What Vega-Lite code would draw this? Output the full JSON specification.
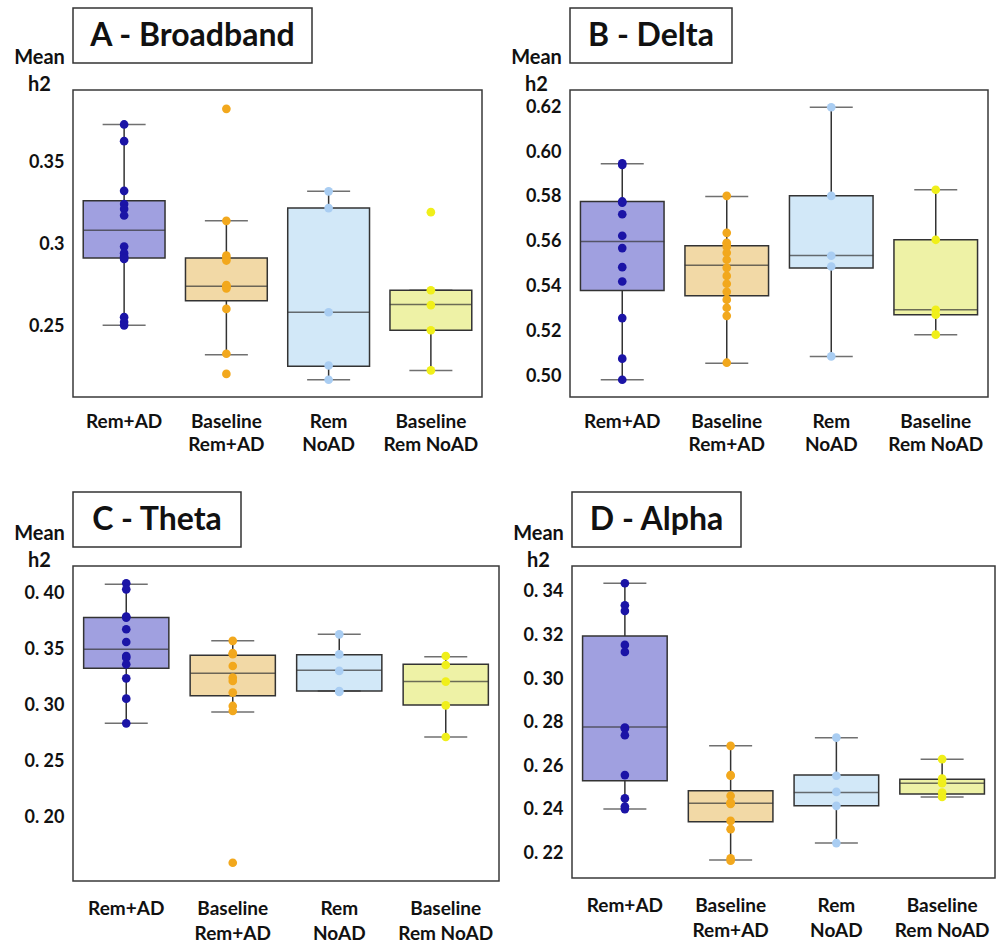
{
"$schema": "https://vega.github.io/schema/vega-lite/v6.json",
"padding": {"left": 12, "top": 7, "right": 0, "bottom": 0},
"background": "white",
"datasets": {
"box": [
{"panel":"A","group":"Rem+AD","lower":0.251,"q1":0.292,"median":0.309,"q3":0.327,"upper":0.3735},
{"panel":"A","group":"Baseline|Rem+AD","lower":0.233,"q1":0.266,"median":0.2749,"q3":0.292,"upper":0.3147},
{"panel":"A","group":"Rem|NoAD","lower":0.2178,"q1":0.226,"median":0.259,"q3":0.3225,"upper":0.3327},
{"panel":"A","group":"Baseline|Rem NoAD","lower":0.2235,"q1":0.248,"median":0.2637,"q3":0.2724,"upper":0.2724},
{"panel":"B","group":"Rem+AD","lower":0.4985,"q1":0.5383,"median":0.5601,"q3":0.578,"upper":0.5948},
{"panel":"B","group":"Baseline|Rem+AD","lower":0.5059,"q1":0.5359,"median":0.5495,"q3":0.5582,"upper":0.5802},
{"panel":"B","group":"Rem|NoAD","lower":0.5089,"q1":0.5483,"median":0.5539,"q3":0.5805,"upper":0.62},
{"panel":"B","group":"Baseline|Rem NoAD","lower":0.5186,"q1":0.5275,"median":0.5297,"q3":0.5609,"upper":0.5832},
{"panel":"C","group":"Rem+AD","lower":0.284,"q1":0.3331,"median":0.35,"q3":0.3782,"upper":0.4079},
{"panel":"C","group":"Baseline|Rem+AD","lower":0.294,"q1":0.3085,"median":0.3286,"q3":0.3446,"upper":0.3575},
{"panel":"C","group":"Rem|NoAD","lower":0.3128,"q1":0.3128,"median":0.3313,"q3":0.3452,"upper":0.3633},
{"panel":"C","group":"Baseline|Rem NoAD","lower":0.2718,"q1":0.3004,"median":0.3212,"q3":0.3366,"upper":0.3434},
{"panel":"D","group":"Rem+AD","lower":0.2404,"q1":0.2534,"median":0.2781,"q3":0.3198,"upper":0.344},
{"panel":"D","group":"Baseline|Rem+AD","lower":0.217,"q1":0.2346,"median":0.2431,"q3":0.2488,"upper":0.2694},
{"panel":"D","group":"Rem|NoAD","lower":0.2248,"q1":0.2419,"median":0.248,"q3":0.256,"upper":0.2731},
{"panel":"D","group":"Baseline|Rem NoAD","lower":0.246,"q1":0.2473,"median":0.2523,"q3":0.2541,"upper":0.2633}
],
"pts": [
{"panel":"A","group":"Rem+AD","value":0.3735},{"panel":"A","group":"Rem+AD","value":0.3633},{"panel":"A","group":"Rem+AD","value":0.333},{"panel":"A","group":"Rem+AD","value":0.325},{"panel":"A","group":"Rem+AD","value":0.322},{"panel":"A","group":"Rem+AD","value":0.318},{"panel":"A","group":"Rem+AD","value":0.299},{"panel":"A","group":"Rem+AD","value":0.295},{"panel":"A","group":"Rem+AD","value":0.293},{"panel":"A","group":"Rem+AD","value":0.292},{"panel":"A","group":"Rem+AD","value":0.2915},{"panel":"A","group":"Rem+AD","value":0.256},{"panel":"A","group":"Rem+AD","value":0.253},{"panel":"A","group":"Rem+AD","value":0.251},
{"panel":"A","group":"Baseline|Rem+AD","value":0.383},{"panel":"A","group":"Baseline|Rem+AD","value":0.3147},{"panel":"A","group":"Baseline|Rem+AD","value":0.2935},{"panel":"A","group":"Baseline|Rem+AD","value":0.292},{"panel":"A","group":"Baseline|Rem+AD","value":0.2905},{"panel":"A","group":"Baseline|Rem+AD","value":0.2755},{"panel":"A","group":"Baseline|Rem+AD","value":0.275},{"panel":"A","group":"Baseline|Rem+AD","value":0.2745},{"panel":"A","group":"Baseline|Rem+AD","value":0.2735},{"panel":"A","group":"Baseline|Rem+AD","value":0.261},{"panel":"A","group":"Baseline|Rem+AD","value":0.2337},{"panel":"A","group":"Baseline|Rem+AD","value":0.2214},
{"panel":"A","group":"Rem|NoAD","value":0.3327},{"panel":"A","group":"Rem|NoAD","value":0.3225},{"panel":"A","group":"Rem|NoAD","value":0.259},{"panel":"A","group":"Rem|NoAD","value":0.2265},{"panel":"A","group":"Rem|NoAD","value":0.2178},
{"panel":"A","group":"Baseline|Rem NoAD","value":0.32},{"panel":"A","group":"Baseline|Rem NoAD","value":0.2724},{"panel":"A","group":"Baseline|Rem NoAD","value":0.2633},{"panel":"A","group":"Baseline|Rem NoAD","value":0.248},{"panel":"A","group":"Baseline|Rem NoAD","value":0.2235},
{"panel":"B","group":"Rem+AD","value":0.595},{"panel":"B","group":"Rem+AD","value":0.5943},{"panel":"B","group":"Rem+AD","value":0.578},{"panel":"B","group":"Rem+AD","value":0.5775},{"panel":"B","group":"Rem+AD","value":0.5723},{"panel":"B","group":"Rem+AD","value":0.5627},{"panel":"B","group":"Rem+AD","value":0.5572},{"panel":"B","group":"Rem+AD","value":0.5487},{"panel":"B","group":"Rem+AD","value":0.5423},{"panel":"B","group":"Rem+AD","value":0.526},{"panel":"B","group":"Rem+AD","value":0.5079},{"panel":"B","group":"Rem+AD","value":0.4985},
{"panel":"B","group":"Baseline|Rem+AD","value":0.5805},{"panel":"B","group":"Baseline|Rem+AD","value":0.564},{"panel":"B","group":"Baseline|Rem+AD","value":0.5596},{"panel":"B","group":"Baseline|Rem+AD","value":0.5592},{"panel":"B","group":"Baseline|Rem+AD","value":0.5578},{"panel":"B","group":"Baseline|Rem+AD","value":0.5551},{"panel":"B","group":"Baseline|Rem+AD","value":0.552},{"panel":"B","group":"Baseline|Rem+AD","value":0.5484},{"panel":"B","group":"Baseline|Rem+AD","value":0.5448},{"panel":"B","group":"Baseline|Rem+AD","value":0.5413},{"panel":"B","group":"Baseline|Rem+AD","value":0.5377},{"panel":"B","group":"Baseline|Rem+AD","value":0.5342},{"panel":"B","group":"Baseline|Rem+AD","value":0.5306},{"panel":"B","group":"Baseline|Rem+AD","value":0.527},{"panel":"B","group":"Baseline|Rem+AD","value":0.5061},
{"panel":"B","group":"Rem|NoAD","value":0.62},{"panel":"B","group":"Rem|NoAD","value":0.5805},{"panel":"B","group":"Rem|NoAD","value":0.5538},{"panel":"B","group":"Rem|NoAD","value":0.549},{"panel":"B","group":"Rem|NoAD","value":0.5089},
{"panel":"B","group":"Baseline|Rem NoAD","value":0.5832},{"panel":"B","group":"Baseline|Rem NoAD","value":0.5609},{"panel":"B","group":"Baseline|Rem NoAD","value":0.5297},{"panel":"B","group":"Baseline|Rem NoAD","value":0.5275},{"panel":"B","group":"Baseline|Rem NoAD","value":0.5186},
{"panel":"C","group":"Rem+AD","value":0.4088},{"panel":"C","group":"Rem+AD","value":0.4034},{"panel":"C","group":"Rem+AD","value":0.3791},{"panel":"C","group":"Rem+AD","value":0.3782},{"panel":"C","group":"Rem+AD","value":0.3678},{"panel":"C","group":"Rem+AD","value":0.3565},{"panel":"C","group":"Rem+AD","value":0.344},{"panel":"C","group":"Rem+AD","value":0.3425},{"panel":"C","group":"Rem+AD","value":0.3366},{"panel":"C","group":"Rem+AD","value":0.3241},{"panel":"C","group":"Rem+AD","value":0.306},{"panel":"C","group":"Rem+AD","value":0.284},
{"panel":"C","group":"Baseline|Rem+AD","value":0.3575},{"panel":"C","group":"Baseline|Rem+AD","value":0.3465},{"panel":"C","group":"Baseline|Rem+AD","value":0.3456},{"panel":"C","group":"Baseline|Rem+AD","value":0.3351},{"panel":"C","group":"Baseline|Rem+AD","value":0.3247},{"panel":"C","group":"Baseline|Rem+AD","value":0.3217},{"panel":"C","group":"Baseline|Rem+AD","value":0.3114},{"panel":"C","group":"Baseline|Rem+AD","value":0.2995},{"panel":"C","group":"Baseline|Rem+AD","value":0.295},{"panel":"C","group":"Baseline|Rem+AD","value":0.1598},
{"panel":"C","group":"Rem|NoAD","value":0.3633},{"panel":"C","group":"Rem|NoAD","value":0.3455},{"panel":"C","group":"Rem|NoAD","value":0.3307},{"panel":"C","group":"Rem|NoAD","value":0.3128},{"panel":"C","group":"Rem|NoAD","value":0.312},
{"panel":"C","group":"Baseline|Rem NoAD","value":0.344},{"panel":"C","group":"Baseline|Rem NoAD","value":0.336},{"panel":"C","group":"Baseline|Rem NoAD","value":0.3212},{"panel":"C","group":"Baseline|Rem NoAD","value":0.3},{"panel":"C","group":"Baseline|Rem NoAD","value":0.2718},
{"panel":"D","group":"Rem+AD","value":0.344},{"panel":"D","group":"Rem+AD","value":0.3339},{"panel":"D","group":"Rem+AD","value":0.3313},{"panel":"D","group":"Rem+AD","value":0.3157},{"panel":"D","group":"Rem+AD","value":0.3125},{"panel":"D","group":"Rem+AD","value":0.2778},{"panel":"D","group":"Rem+AD","value":0.2774},{"panel":"D","group":"Rem+AD","value":0.2743},{"panel":"D","group":"Rem+AD","value":0.256},{"panel":"D","group":"Rem+AD","value":0.2453},{"panel":"D","group":"Rem+AD","value":0.2416},{"panel":"D","group":"Rem+AD","value":0.2404},
{"panel":"D","group":"Baseline|Rem+AD","value":0.2694},{"panel":"D","group":"Baseline|Rem+AD","value":0.256},{"panel":"D","group":"Baseline|Rem+AD","value":0.2557},{"panel":"D","group":"Baseline|Rem+AD","value":0.2465},{"panel":"D","group":"Baseline|Rem+AD","value":0.2434},{"panel":"D","group":"Baseline|Rem+AD","value":0.2431},{"panel":"D","group":"Baseline|Rem+AD","value":0.2428},{"panel":"D","group":"Baseline|Rem+AD","value":0.235},{"panel":"D","group":"Baseline|Rem+AD","value":0.2312},{"panel":"D","group":"Baseline|Rem+AD","value":0.2178},{"panel":"D","group":"Baseline|Rem+AD","value":0.2167},
{"panel":"D","group":"Rem|NoAD","value":0.2732},{"panel":"D","group":"Rem|NoAD","value":0.2557},{"panel":"D","group":"Rem|NoAD","value":0.2483},{"panel":"D","group":"Rem|NoAD","value":0.2419},{"panel":"D","group":"Rem|NoAD","value":0.2248},
{"panel":"D","group":"Baseline|Rem NoAD","value":0.2633},{"panel":"D","group":"Baseline|Rem NoAD","value":0.2544},{"panel":"D","group":"Baseline|Rem NoAD","value":0.2523},{"panel":"D","group":"Baseline|Rem NoAD","value":0.248},{"panel":"D","group":"Baseline|Rem NoAD","value":0.246}
]
},
"vconcat": [
{
"hconcat": [
{
"vconcat": [
{"width": 239, "height": 55, "data": {"values": [{"t": "A - Broadband"}]}, "view": {"stroke": "#333", "strokeWidth": 1.5}, "mark": {"type": "text", "font": "Lato", "fontWeight": "bold", "fontSize": 32, "color": "#111"}, "encoding": {"text": {"field": "t"}}},
{"width": 409, "height": 307, "view": {"stroke": "#3a3a3a", "strokeWidth": 1.5},
"encoding": {"x": {"field": "group", "type": "nominal", "sort": ["Rem+AD","Baseline|Rem+AD","Rem|NoAD","Baseline|Rem NoAD"], "scale": {"paddingInner": 0, "paddingOuter": 0}, "title": null, "axis": {"labelExpr": "split(datum.label, '|')", "labelLineHeight": 23}}},
"layer": [
{"data": {"name": "box"}, "transform": [{"filter": "datum.panel == 'A'"}], "mark": {"type": "rule", "color": "#333", "strokeWidth": 1.5}, "encoding": {"y": {"field": "lower", "type": "quantitative", "title": ["Mean","h2"], "scale": {"domain": [0.2073, 0.3945], "nice": false, "zero": false}, "axis": {"values": [0.25, 0.3, 0.35], "format": "~g"}}, "y2": {"field": "upper"}}},
{"data": {"name": "box"}, "transform": [{"filter": "datum.panel == 'A'"}], "mark": {"type": "bar", "width": {"band": 0.8}, "stroke": "#333", "strokeWidth": 1.5}, "encoding": {"y": {"field": "q1", "type": "quantitative", "title": ["Mean","h2"], "scale": {"domain": [0.2073, 0.3945], "nice": false, "zero": false}, "axis": {"values": [0.25, 0.3, 0.35], "format": "~g"}}, "y2": {"field": "q3"}, "fill": {"field": "group", "type": "nominal", "legend": null, "scale": {"domain": ["Rem+AD","Baseline|Rem+AD","Rem|NoAD","Baseline|Rem NoAD"], "range": ["#a0a0e0","#f2d9a6","#d2e8f8","#eef2a6"]}}}},
{"data": {"name": "box"}, "transform": [{"filter": "datum.panel == 'A'"}, {"fold": ["lower","upper","median"], "as": ["stat","v"]}], "mark": {"type": "tick", "color": "#333", "thickness": 1.5}, "encoding": {"y": {"field": "v", "type": "quantitative", "title": ["Mean","h2"], "scale": {"domain": [0.2073, 0.3945], "nice": false, "zero": false}, "axis": {"values": [0.25, 0.3, 0.35], "format": "~g"}}, "size": {"condition": {"test": "datum.stat == 'median'", "value": 82}, "value": 43}}},
{"data": {"name": "pts"}, "transform": [{"filter": "datum.panel == 'A'"}], "mark": {"type": "circle", "size": 75, "opacity": 1}, "encoding": {"y": {"field": "value", "type": "quantitative", "title": ["Mean","h2"], "scale": {"domain": [0.2073, 0.3945], "nice": false, "zero": false}, "axis": {"values": [0.25, 0.3, 0.35], "format": "~g"}}, "color": {"field": "group", "type": "nominal", "legend": null, "scale": {"domain": ["Rem+AD","Baseline|Rem+AD","Rem|NoAD","Baseline|Rem NoAD"], "range": ["#1b14a6","#f2a81d","#a9cdf2","#f0ef1a"]}}}}
]}
], "spacing": 27, "bounds": "flush"
},
{
"vconcat": [
{"width": 162, "height": 55, "data": {"values": [{"t": "B - Delta"}]}, "view": {"stroke": "#333", "strokeWidth": 1.5}, "mark": {"type": "text", "font": "Lato", "fontWeight": "bold", "fontSize": 32, "color": "#111"}, "encoding": {"text": {"field": "t"}}},
{"width": 418, "height": 307, "view": {"stroke": "#3a3a3a", "strokeWidth": 1.5},
"encoding": {"x": {"field": "group", "type": "nominal", "sort": ["Rem+AD","Baseline|Rem+AD","Rem|NoAD","Baseline|Rem NoAD"], "scale": {"paddingInner": 0, "paddingOuter": 0}, "title": null, "axis": {"labelExpr": "split(datum.label, '|')", "labelLineHeight": 23}}},
"layer": [
{"data": {"name": "box"}, "transform": [{"filter": "datum.panel == 'B'"}], "mark": {"type": "rule", "color": "#333", "strokeWidth": 1.5}, "encoding": {"y": {"field": "lower", "type": "quantitative", "title": ["Mean","h2"], "scale": {"domain": [0.4908, 0.6277], "nice": false, "zero": false}, "axis": {"values": [0.5, 0.52, 0.54, 0.56, 0.58, 0.6, 0.62], "format": ".2f"}}, "y2": {"field": "upper"}}},
{"data": {"name": "box"}, "transform": [{"filter": "datum.panel == 'B'"}], "mark": {"type": "bar", "width": {"band": 0.8}, "stroke": "#333", "strokeWidth": 1.5}, "encoding": {"y": {"field": "q1", "type": "quantitative", "title": ["Mean","h2"], "scale": {"domain": [0.4908, 0.6277], "nice": false, "zero": false}, "axis": {"values": [0.5, 0.52, 0.54, 0.56, 0.58, 0.6, 0.62], "format": ".2f"}}, "y2": {"field": "q3"}, "fill": {"field": "group", "type": "nominal", "legend": null, "scale": {"domain": ["Rem+AD","Baseline|Rem+AD","Rem|NoAD","Baseline|Rem NoAD"], "range": ["#a0a0e0","#f2d9a6","#d2e8f8","#eef2a6"]}}}},
{"data": {"name": "box"}, "transform": [{"filter": "datum.panel == 'B'"}, {"fold": ["lower","upper","median"], "as": ["stat","v"]}], "mark": {"type": "tick", "color": "#333", "thickness": 1.5}, "encoding": {"y": {"field": "v", "type": "quantitative", "title": ["Mean","h2"], "scale": {"domain": [0.4908, 0.6277], "nice": false, "zero": false}, "axis": {"values": [0.5, 0.52, 0.54, 0.56, 0.58, 0.6, 0.62], "format": ".2f"}}, "size": {"condition": {"test": "datum.stat == 'median'", "value": 84}, "value": 43}}},
{"data": {"name": "pts"}, "transform": [{"filter": "datum.panel == 'B'"}], "mark": {"type": "circle", "size": 75, "opacity": 1}, "encoding": {"y": {"field": "value", "type": "quantitative", "title": ["Mean","h2"], "scale": {"domain": [0.4908, 0.6277], "nice": false, "zero": false}, "axis": {"values": [0.5, 0.52, 0.54, 0.56, 0.58, 0.6, 0.62], "format": ".2f"}}, "color": {"field": "group", "type": "nominal", "legend": null, "scale": {"domain": ["Rem+AD","Baseline|Rem+AD","Rem|NoAD","Baseline|Rem NoAD"], "range": ["#1b14a6","#f2a81d","#a9cdf2","#f0ef1a"]}}}}
]}
], "spacing": 27, "bounds": "flush"
}
], "spacing": 26, "resolve": {"scale": {"x": "independent", "y": "independent"}}
},
{
"hconcat": [
{
"vconcat": [
{"width": 168, "height": 55, "data": {"values": [{"t": "C - Theta"}]}, "view": {"stroke": "#333", "strokeWidth": 1.5}, "mark": {"type": "text", "font": "Lato", "fontWeight": "bold", "fontSize": 32, "color": "#111"}, "encoding": {"text": {"field": "t"}}},
{"width": 426, "height": 315, "view": {"stroke": "#3a3a3a", "strokeWidth": 1.5},
"encoding": {"x": {"field": "group", "type": "nominal", "sort": ["Rem+AD","Baseline|Rem+AD","Rem|NoAD","Baseline|Rem NoAD"], "scale": {"paddingInner": 0, "paddingOuter": 0}, "title": null, "axis": {"labelExpr": "split(datum.label, '|')", "labelLineHeight": 25, "labelPadding": 18}}},
"layer": [
{"data": {"name": "box"}, "transform": [{"filter": "datum.panel == 'C'"}], "mark": {"type": "rule", "color": "#333", "strokeWidth": 1.5}, "encoding": {"y": {"field": "lower", "type": "quantitative", "title": ["Mean","h2"], "scale": {"domain": [0.1435, 0.4242], "nice": false, "zero": false}, "axis": {"values": [0.2, 0.25, 0.3, 0.35, 0.4], "format": ".2f", "labelExpr": "replace(datum.label, '.', '. ')"}}, "y2": {"field": "upper"}}},
{"data": {"name": "box"}, "transform": [{"filter": "datum.panel == 'C'"}], "mark": {"type": "bar", "width": {"band": 0.8}, "stroke": "#333", "strokeWidth": 1.5}, "encoding": {"y": {"field": "q1", "type": "quantitative", "title": ["Mean","h2"], "scale": {"domain": [0.1435, 0.4242], "nice": false, "zero": false}, "axis": {"values": [0.2, 0.25, 0.3, 0.35, 0.4], "format": ".2f", "labelExpr": "replace(datum.label, '.', '. ')"}}, "y2": {"field": "q3"}, "fill": {"field": "group", "type": "nominal", "legend": null, "scale": {"domain": ["Rem+AD","Baseline|Rem+AD","Rem|NoAD","Baseline|Rem NoAD"], "range": ["#a0a0e0","#f2d9a6","#d2e8f8","#eef2a6"]}}}},
{"data": {"name": "box"}, "transform": [{"filter": "datum.panel == 'C'"}, {"fold": ["lower","upper","median"], "as": ["stat","v"]}], "mark": {"type": "tick", "color": "#333", "thickness": 1.5}, "encoding": {"y": {"field": "v", "type": "quantitative", "title": ["Mean","h2"], "scale": {"domain": [0.1435, 0.4242], "nice": false, "zero": false}, "axis": {"values": [0.2, 0.25, 0.3, 0.35, 0.4], "format": ".2f", "labelExpr": "replace(datum.label, '.', '. ')"}}, "size": {"condition": {"test": "datum.stat == 'median'", "value": 85}, "value": 43}}},
{"data": {"name": "pts"}, "transform": [{"filter": "datum.panel == 'C'"}], "mark": {"type": "circle", "size": 75, "opacity": 1}, "encoding": {"y": {"field": "value", "type": "quantitative", "title": ["Mean","h2"], "scale": {"domain": [0.1435, 0.4242], "nice": false, "zero": false}, "axis": {"values": [0.2, 0.25, 0.3, 0.35, 0.4], "format": ".2f", "labelExpr": "replace(datum.label, '.', '. ')"}}, "color": {"field": "group", "type": "nominal", "legend": null, "scale": {"domain": ["Rem+AD","Baseline|Rem+AD","Rem|NoAD","Baseline|Rem NoAD"], "range": ["#1b14a6","#f2a81d","#a9cdf2","#f0ef1a"]}}}}
]}
], "spacing": 19, "bounds": "flush"
},
{
"vconcat": [
{"width": 169, "height": 55, "data": {"values": [{"t": "D - Alpha"}]}, "view": {"stroke": "#333", "strokeWidth": 1.5}, "mark": {"type": "text", "font": "Lato", "fontWeight": "bold", "fontSize": 32, "color": "#111"}, "encoding": {"text": {"field": "t"}}},
{"width": 423, "height": 312, "view": {"stroke": "#3a3a3a", "strokeWidth": 1.5},
"encoding": {"x": {"field": "group", "type": "nominal", "sort": ["Rem+AD","Baseline|Rem+AD","Rem|NoAD","Baseline|Rem NoAD"], "scale": {"paddingInner": 0, "paddingOuter": 0}, "title": null, "axis": {"labelExpr": "split(datum.label, '|')", "labelLineHeight": 25, "labelPadding": 18}}},
"layer": [
{"data": {"name": "box"}, "transform": [{"filter": "datum.panel == 'D'"}], "mark": {"type": "rule", "color": "#333", "strokeWidth": 1.5}, "encoding": {"y": {"field": "lower", "type": "quantitative", "title": ["Mean","h2"], "scale": {"domain": [0.2088, 0.3519], "nice": false, "zero": false}, "axis": {"values": [0.22, 0.24, 0.26, 0.28, 0.3, 0.32, 0.34], "format": ".2f", "labelExpr": "replace(datum.label, '.', '. ')"}}, "y2": {"field": "upper"}}},
{"data": {"name": "box"}, "transform": [{"filter": "datum.panel == 'D'"}], "mark": {"type": "bar", "width": {"band": 0.8}, "stroke": "#333", "strokeWidth": 1.5}, "encoding": {"y": {"field": "q1", "type": "quantitative", "title": ["Mean","h2"], "scale": {"domain": [0.2088, 0.3519], "nice": false, "zero": false}, "axis": {"values": [0.22, 0.24, 0.26, 0.28, 0.3, 0.32, 0.34], "format": ".2f", "labelExpr": "replace(datum.label, '.', '. ')"}}, "y2": {"field": "q3"}, "fill": {"field": "group", "type": "nominal", "legend": null, "scale": {"domain": ["Rem+AD","Baseline|Rem+AD","Rem|NoAD","Baseline|Rem NoAD"], "range": ["#a0a0e0","#f2d9a6","#d2e8f8","#eef2a6"]}}}},
{"data": {"name": "box"}, "transform": [{"filter": "datum.panel == 'D'"}, {"fold": ["lower","upper","median"], "as": ["stat","v"]}], "mark": {"type": "tick", "color": "#333", "thickness": 1.5}, "encoding": {"y": {"field": "v", "type": "quantitative", "title": ["Mean","h2"], "scale": {"domain": [0.2088, 0.3519], "nice": false, "zero": false}, "axis": {"values": [0.22, 0.24, 0.26, 0.28, 0.3, 0.32, 0.34], "format": ".2f", "labelExpr": "replace(datum.label, '.', '. ')"}}, "size": {"condition": {"test": "datum.stat == 'median'", "value": 85}, "value": 43}}},
{"data": {"name": "pts"}, "transform": [{"filter": "datum.panel == 'D'"}], "mark": {"type": "circle", "size": 75, "opacity": 1}, "encoding": {"y": {"field": "value", "type": "quantitative", "title": ["Mean","h2"], "scale": {"domain": [0.2088, 0.3519], "nice": false, "zero": false}, "axis": {"values": [0.22, 0.24, 0.26, 0.28, 0.3, 0.32, 0.34], "format": ".2f", "labelExpr": "replace(datum.label, '.', '. ')"}}, "color": {"field": "group", "type": "nominal", "legend": null, "scale": {"domain": ["Rem+AD","Baseline|Rem+AD","Rem|NoAD","Baseline|Rem NoAD"], "range": ["#1b14a6","#f2a81d","#a9cdf2","#f0ef1a"]}}}}
]}
], "spacing": 19, "bounds": "flush"
}
], "spacing": 11, "resolve": {"scale": {"x": "independent", "y": "independent"}}
}
],
"spacing": 36, "resolve": {"scale": {"x": "independent", "y": "independent"}},
"config": {
"font": "Lato",
"axis": {"grid": false, "ticks": false, "domain": false, "labelFont": "Lato", "labelFontWeight": "bold", "labelColor": "#111", "titleFont": "Lato", "titleFontWeight": "bold", "titleColor": "#111"},
"axisX": {"labelAngle": 0, "labelFontSize": 19, "labelPadding": 15},
"axisY": {"labelFontSize": 18, "labelPadding": 9, "titleAngle": 0, "titleAlign": "center", "titleBaseline": "alphabetic", "titleX": -34, "titleY": -27, "titleFontSize": 20, "titleLineHeight": 27}
}
}
